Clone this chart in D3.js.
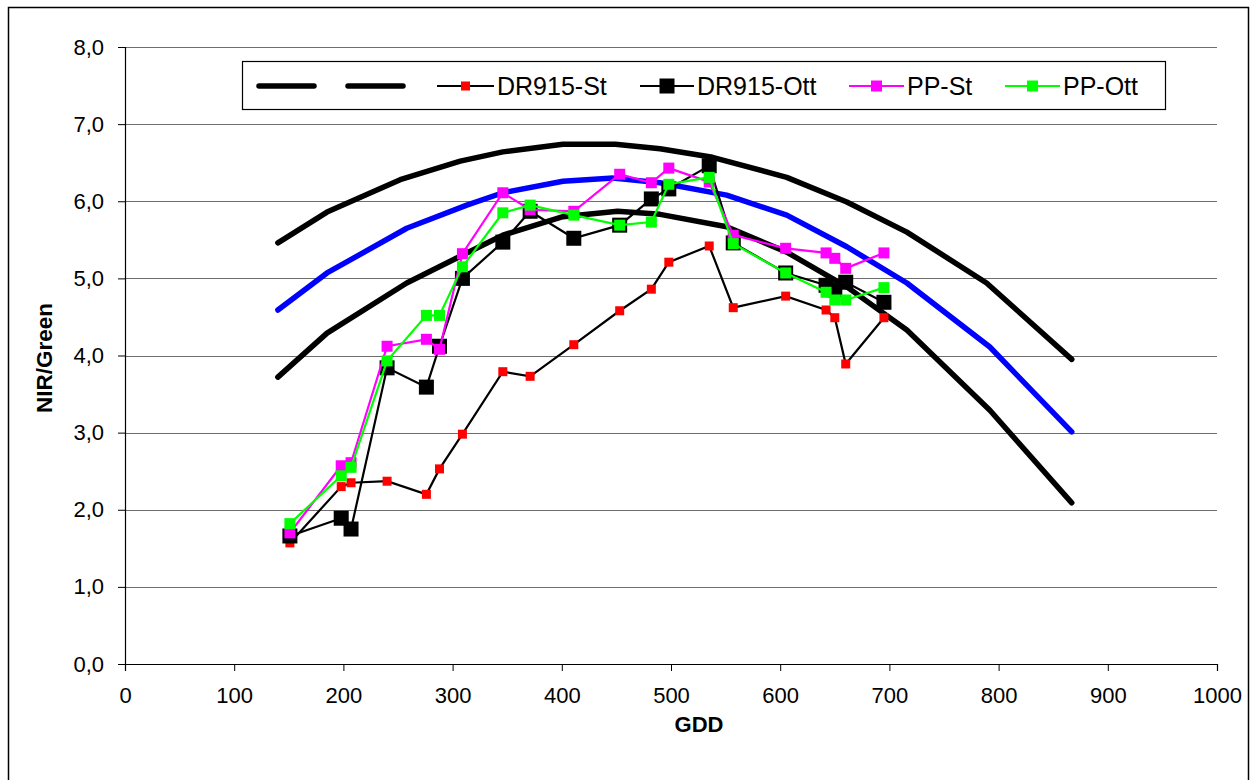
<!DOCTYPE html>
<html>
<head>
<meta charset="utf-8">
<script src="https://cdn.jsdelivr.net/npm/d3@7"></script>
<style>
  html, body { margin: 0; padding: 0; background: #fff; }
  svg { display: block; font-family: "Liberation Sans", Arial, sans-serif; }
</style>
</head>
<body>
<svg id="chart" width="1256" height="780"></svg>
<script>
// ---------- DATA ----------
const xTicks = [0, 100, 200, 300, 400, 500, 600, 700, 800, 900, 1000];
const yTicks = [0, 1, 2, 3, 4, 5, 6, 7, 8];

// reference curves
const upperCurveX = [140, 185, 252, 307, 346, 401, 449, 490, 538, 606, 661, 716, 789, 867];
const upperCurveY = [5.46, 5.86, 6.28, 6.52, 6.64, 6.74, 6.74, 6.68, 6.57, 6.31, 5.99, 5.60, 4.94, 3.95];
const blueCurveX  = [140, 185, 258, 313, 346, 401, 447, 490, 551, 606, 661, 716, 792, 867];
const blueCurveY  = [4.59, 5.07, 5.65, 5.95, 6.11, 6.26, 6.30, 6.24, 6.08, 5.82, 5.41, 4.94, 4.11, 3.01];
const lowerCurveX = [140, 185, 258, 313, 346, 401, 451, 490, 551, 606, 661, 716, 792, 867];
const lowerCurveY = [3.72, 4.29, 4.94, 5.33, 5.56, 5.80, 5.87, 5.83, 5.67, 5.34, 4.89, 4.33, 3.29, 2.09];

// measured series
const gdd = [151, 198, 207, 240, 276, 288, 309, 346, 371, 411, 453, 482, 498, 535, 557, 605, 642, 650, 660, 695];
const dr915St  = [1.57, 2.30, 2.35, 2.37, 2.20, 2.53, 2.98, 3.79, 3.73, 4.14, 4.58, 4.86, 5.21, 5.42, 4.62, 4.77, 4.59, 4.49, 3.89, 4.49];
const dr915Ott = [1.66, 1.89, 1.75, 3.84, 3.59, 4.12, 5.00, 5.47, 5.87, 5.52, 5.69, 6.03, 6.16, 6.46, 5.46, 5.07, 4.91, 4.85, 4.95, 4.69];
const ppSt     = [1.70, 2.57, 2.61, 4.12, 4.21, 4.08, 5.32, 6.11, 5.89, 5.87, 6.35, 6.24, 6.43, 6.25, 5.56, 5.39, 5.33, 5.26, 5.13, 5.33];
const ppOtt    = [1.82, 2.44, 2.55, 3.93, 4.52, 4.52, 5.15, 5.85, 5.95, 5.82, 5.69, 5.73, 6.22, 6.31, 5.45, 5.07, 4.82, 4.72, 4.72, 4.88];

const legendNames = ["", "", "DR915-St", "DR915-Ott", "PP-St", "PP-Ott"];

// ---------- DRAW ----------
const svg = d3.select("#chart");
const x = d3.scaleLinear().domain([0, 1000]).range([125, 1217]);
const y = d3.scaleLinear().domain([0, 8]).range([664, 47]);

// outer frame
svg.append("rect").attr("x", 8.5).attr("y", 7.5).attr("width", 1240).attr("height", 800)
  .attr("fill", "none").attr("stroke", "#000").attr("stroke-width", 1.5);

// gridlines
svg.append("g").selectAll("line").data(yTicks.filter(d => d > 0)).join("line")
  .attr("x1", x(0)).attr("x2", x(1000))
  .attr("y1", d => Math.round(y(d)) + 0.5).attr("y2", d => Math.round(y(d)) + 0.5)
  .attr("stroke", "#6e6e6e").attr("stroke-width", 1.2);

// axes
const fmtY = d => d3.format(".1f")(d).replace(".", ",");
const yAxis = d3.axisLeft(y).tickValues(yTicks).tickFormat(fmtY).tickSizeOuter(0).tickSize(7).tickPadding(14);
const gy = svg.append("g").attr("transform", `translate(${x(0)},0)`).call(yAxis);
const xAxis = d3.axisBottom(x).tickValues(xTicks).tickFormat(d3.format("d")).tickSizeOuter(0).tickSize(7).tickPadding(16);
const gx = svg.append("g").attr("transform", `translate(0,${y(0)})`).call(xAxis);
[gx, gy].forEach(g => {
  g.select(".domain").attr("stroke", "#000").attr("stroke-width", 1.2);
  g.selectAll(".tick line").attr("stroke", "#000").attr("stroke-width", 1);
  g.selectAll(".tick text").attr("font-size", 22).attr("fill", "#000")
    .attr("font-family", "'Liberation Sans', Arial, sans-serif");
});

// axis titles
svg.append("text").attr("x", 699).attr("y", 732).attr("text-anchor", "middle")
  .attr("font-size", 22).attr("font-weight", "bold").text("GDD");
svg.append("text").attr("transform", "translate(52,358) rotate(-90)").attr("text-anchor", "middle")
  .attr("font-size", 22.5).attr("font-weight", "bold").text("NIR/Green");

// curves
const line = d3.line().x(d => x(d[0])).y(d => y(d[1]));
const zip = (a, b) => a.map((v, i) => [v, b[i]]);
const curves = [
  { xs: upperCurveX, ys: upperCurveY, color: "#000" },
  { xs: blueCurveX, ys: blueCurveY, color: "#0000ff" },
  { xs: lowerCurveX, ys: lowerCurveY, color: "#000" }
];
curves.forEach(c => {
  svg.append("path").attr("d", line(zip(c.xs, c.ys))).attr("fill", "none")
    .attr("stroke", c.color).attr("stroke-width", 5.5).attr("stroke-linecap", "round").attr("stroke-linejoin", "round");
});

// series
const series = [
  { vals: dr915St, line: "#000", fill: "#ff0000", size: 9 },
  { vals: dr915Ott, line: "#000", fill: "#000", size: 15 },
  { vals: ppSt, line: "#ff00ff", fill: "#ff00ff", size: 11 },
  { vals: ppOtt, line: "#00ff00", fill: "#00ff00", size: 11 }
];
series.forEach(s => {
  const pts = zip(gdd, s.vals);
  svg.append("path").attr("d", line(pts)).attr("fill", "none")
    .attr("stroke", s.line).attr("stroke-width", 2.2);
  svg.append("g").selectAll("rect").data(pts).join("rect")
    .attr("x", d => x(d[0]) - s.size / 2).attr("y", d => y(d[1]) - s.size / 2)
    .attr("width", s.size).attr("height", s.size).attr("fill", s.fill);
});

// legend
const lg = svg.append("g");
lg.append("rect").attr("x", 242.5).attr("y", 61.5).attr("width", 923).attr("height", 48)
  .attr("fill", "#fff").attr("stroke", "#000").attr("stroke-width", 1.2);
const legendItems = [
  { x1: 259, x2: 314, color: "#000", w: 5.5, marker: null },
  { x1: 348, x2: 403, color: "#000", w: 5.5, marker: null },
  { x1: 437, x2: 494, color: "#000", w: 2.2, marker: series[0] },
  { x1: 640, x2: 694, color: "#000", w: 2.2, marker: series[1] },
  { x1: 849, x2: 904, color: "#ff00ff", w: 2.2, marker: series[2] },
  { x1: 1005, x2: 1060, color: "#00ff00", w: 2.2, marker: series[3] }
];
const ly = 86;
legendItems.forEach((it, i) => {
  lg.append("line").attr("x1", it.x1).attr("x2", it.x2).attr("y1", ly).attr("y2", ly)
    .attr("stroke", it.color).attr("stroke-width", it.w).attr("stroke-linecap", it.marker ? "butt" : "round");
  if (it.marker) {
    const cx = (it.x1 + it.x2) / 2, s = it.marker.size;
    lg.append("rect").attr("x", cx - s / 2).attr("y", ly - s / 2).attr("width", s).attr("height", s)
      .attr("fill", it.marker.fill);
  }
  if (legendNames[i]) {
    lg.append("text").attr("x", it.x2 + 3).attr("y", ly).attr("dy", "0.36em")
      .attr("font-size", 25).attr("fill", "#000").text(legendNames[i]);
  }
});
</script>
</body>
</html>
